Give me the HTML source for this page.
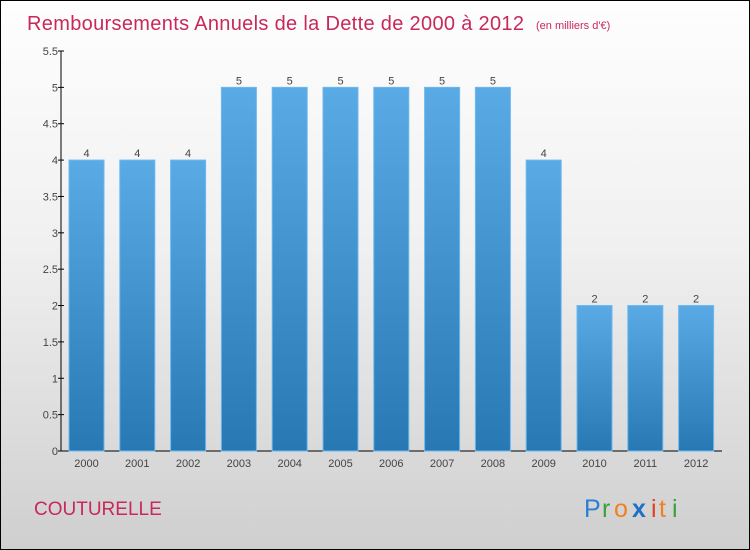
<!DOCTYPE html>
<html><head><meta charset="utf-8"><style>
body{margin:0}
#c{width:748px;height:548px;border:1px solid #000;position:relative;background:linear-gradient(#fefefe 0%,#f0f0f0 45%,#cfcfcf 100%);font-family:"Liberation Sans",sans-serif;overflow:hidden}
</style></head><body>
<div id="c">
<svg id="s" width="748" height="548" style="position:absolute;left:0;top:0">
<defs><linearGradient id="g" x1="0" y1="0" x2="0" y2="1"><stop offset="0" stop-color="#5aaae6"/><stop offset="1" stop-color="#2878b4"/></linearGradient></defs>
<text x="26" y="29" font-size="20" fill="#c8285a" textLength="497">Remboursements Annuels de la Dette de 2000 à 2012</text>
<text x="535" y="28" font-size="11" fill="#c8285a">(en milliers d'€)</text>
<text x="33" y="514" font-size="19" fill="#c8285a">COUTURELLE</text>
<g font-size="25">
<text x="583" y="516" fill="#2a7fd4">P</text><text x="601" y="516" fill="#3aa040">r</text><text x="613" y="516" fill="#f08020">o</text><text x="631" y="516" fill="#1f6fc8" font-weight="bold">x</text><text x="650" y="516" fill="#e04020">i</text><text x="658" y="516" fill="#f08020">t</text><text x="671" y="516" fill="#3aa040">i</text></g>
<g id="plot"></g>
</svg>
</div>
<script>
const years=["2000","2001","2002","2003","2004","2005","2006","2007","2008","2009","2010","2011","2012"];
const values=[4,4,4,5,5,5,5,5,5,4,2,2,2];
const ticks=[0,0.5,1,1.5,2,2.5,3,3.5,4,4.5,5,5.5];
const tickLabels=["0","0.5","1","1.5","2","2.5","3","3.5","4","4.5","5","5.5"];
const NS="http://www.w3.org/2000/svg";
const g=document.getElementById('plot');
const y=v=>450-v*(400/5.5);
const x=i=>85.5+i*50.8;
function mk(t,a){const e=document.createElementNS(NS,t);for(const k in a)e.setAttribute(k,a[k]);g.appendChild(e);return e;}
let ax=mk('line',{x1:60,y1:50,x2:60,y2:450,stroke:'#000'});


let bx=mk('line',{x1:60,y1:450,x2:721,y2:450,stroke:'#000'});


ticks.forEach((t,i)=>{
 let l=mk('line',{x1:57,y1:y(t),x2:63,y2:y(t),stroke:'#000'});
 
 
 let tx=mk('text',{x:57,y:y(t)+4,'text-anchor':'end','font-size':11,fill:'#444'});
 tx.textContent=tickLabels[i];
 
 
});
years.forEach((yr,i)=>{
 let r=mk('rect',{x:x(i)-17.5,y:y(values[i]),width:35,height:450-y(values[i]),fill:'url(#g)',stroke:'#6cb8ee','stroke-width':1});
 
 
 let v=mk('text',{x:x(i),y:y(values[i])-3,'text-anchor':'middle','font-size':11,fill:'#444'});
 v.textContent=values[i];
 
 
 let xl=mk('text',{x:x(i),y:466,'text-anchor':'middle','font-size':11,fill:'#444'});
 xl.textContent=yr;
 
 
});
</script>
</body></html>
